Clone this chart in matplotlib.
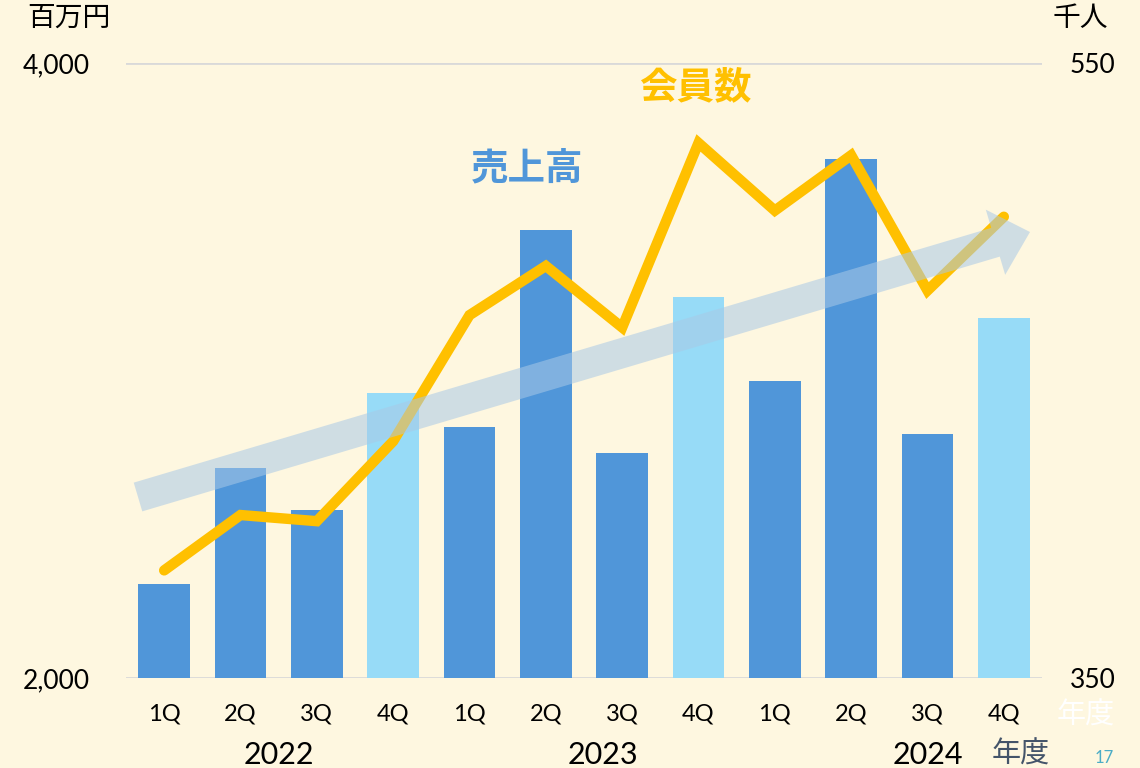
import numpy as np
import matplotlib
matplotlib.use("Agg")
from matplotlib import pyplot as plt
import matplotlib.patches as mpatches

plt.rcParams['font.family'] = ['Lato', 'Noto Sans CJK JP', 'DejaVu Sans']

quarters = ["1Q", "2Q", "3Q", "4Q"] * 3
years = ["2022", "2023", "2024"]
year_pos = [1.5, 5.75, 10.0]
sales = [2306, 2683, 2546, 2927, 2816, 3457, 2732, 3239, 2966, 3688, 2793, 3171]
members = [385, 403, 401, 427, 468, 484, 464, 524, 502, 520, 476, 500]

bg = "#FEF7E0"
dark_blue = "#5096D9"
light_blue = "#97DBF7"
gold = "#FFC000"

fig = plt.figure(figsize=(11.4, 7.68), dpi=100, facecolor=bg)
ax = fig.add_axes([126/1140, 1-678/768, (1042-126)/1140, (678-63)/768])
ax.set_facecolor("none")

x = np.arange(len(sales))
colors = [light_blue if q == "4Q" else dark_blue for q in quarters]
ax.bar(x, np.array(sales) - 2000, bottom=2000, width=0.68, color=colors, zorder=2)
ax.set_xlim(-0.5, 11.5)
ax.set_ylim(2000, 4000)
ax.set_yticks([2000, 4000])
ax.set_yticklabels(["2,000", "4,000"], fontsize=19)
ax.set_xticks(x)
ax.set_xticklabels(quarters, fontsize=17)
ax.tick_params(axis='x', length=0, pad=18)
ax.tick_params(axis='y', length=0, pad=26)
for s in ax.spines.values():
    s.set_visible(False)
ax.axhline(4000, color="#D9D9D9", lw=2, zorder=1)
ax.axhline(2000, color="#D9D9D9", lw=2, zorder=1)

ax2 = ax.twinx()
ax2.set_ylim(350, 550)
ax2.set_yticks([350, 550])
ax2.set_yticklabels(["350", "550"], fontsize=19)
ax2.tick_params(axis='y', length=0, pad=20)
for s in ax2.spines.values():
    s.set_visible(False)
ax2.plot(x, members, color=gold, lw=7.5, solid_capstyle='round', solid_joinstyle='miter', zorder=3)

# trend arrow on top
arrow = mpatches.FancyArrow(1.38, 2.71, 8.92, 2.65, width=0.30, head_width=0.68,
                            head_length=0.36, length_includes_head=True,
                            transform=fig.dpi_scale_trans, color="#A9C9E6", alpha=0.55,
                            lw=0, zorder=5)
fig.add_artist(arrow)

xf = ax.get_xaxis_transform()
for yr, p in zip(years, year_pos):
    ax.text(p, -0.125, yr, transform=xf, ha='center', va='center', fontsize=22)

fig.text(69/1140, 1-18/768, "百万円", ha='center', va='center', fontsize=20)
fig.text(1080/1140, 1-18/768, "千人", ha='center', va='center', fontsize=20)
fig.text(527/1140, 1-168/768, "売上高", ha='center', va='center', fontsize=27,
         color=dark_blue, fontweight='bold')
fig.text(695/1140, 1-86/768, "会員数", ha='center', va='center', fontsize=27,
         color=gold, fontweight='bold')
fig.text(1021/1140, 1-754/768, "年度", ha='center', va='center', fontsize=21, color="#44546A")
fig.text(1086/1140, 1-715/768, "年度", ha='center', va='center', fontsize=21, color="white")
fig.text(1104/1140, 1-766/768, "17", ha='center', va='bottom', fontsize=12, color="#4BACC6")

fig.savefig("out.png", dpi=100, facecolor=bg)
